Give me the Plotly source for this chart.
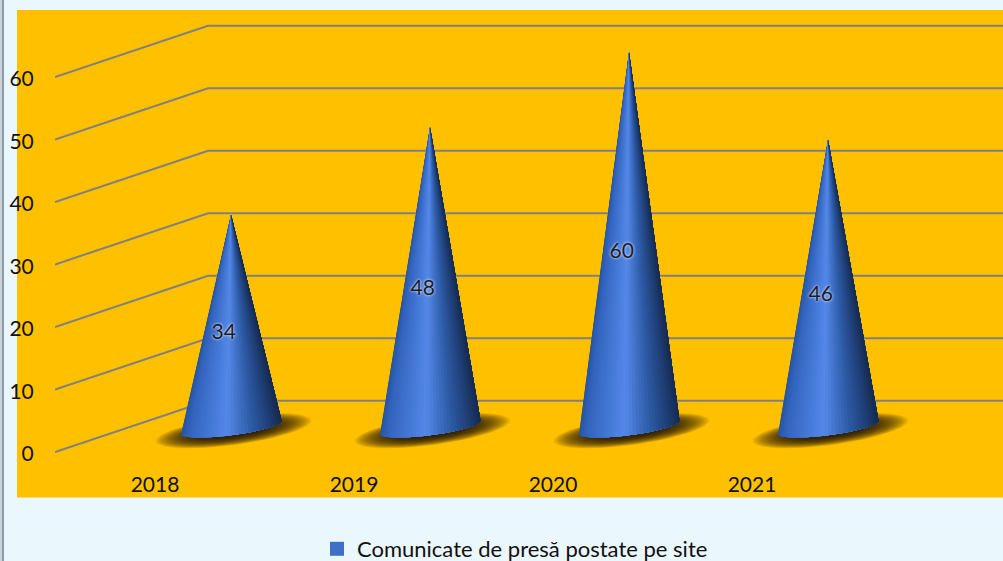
import math
import plotly.graph_objects as go

categories = ["2018", "2019", "2020", "2021"]
values = [34, 48, 60, 46]
y_ticks = [0, 10, 20, 30, 40, 50, 60]
series_name = "Comunicate de presă postate pe site"

FONT = "Lato"
TEXT = "#111111"
GRID = "#808080"
ORANGE = "#FFC000"
PAPER = "#EAF7FD"

W, H = 1003, 561
L, R, T, B = 55, 1003, 10, 465
X_RANGE = [(L - 155) / 199, (R - 155) / 199]
Y_RANGE = [(452 - B) / 6.25, (452 - T) / 6.25]

# 3-D look expressed in axis units
DEPTH_X = 0.769
DEPTH_Y = 8.2
CONE_DX = 0.382
CONE_DY = 3.95
BASE_A = 0.2538
BASE_TILT = 1.04
BASE_B = 1.28

STOPS = [(0.0, (38, 84, 160)), (0.08, (50, 100, 190)), (0.46, (84, 136, 232)),
         (0.70, (46, 92, 168)), (0.90, (30, 60, 112)), (1.0, (22, 42, 80))]


def shade(s):
    for (a, ca), (b, cb) in zip(STOPS, STOPS[1:]):
        if s <= b:
            f = (s - a) / (b - a)
            c = [round(x + (y - x) * f) for x, y in zip(ca, cb)]
            return f"rgb({c[0]},{c[1]},{c[2]})"
    return "rgb(22,42,80)"


fig = go.Figure()

# Gridlines: slanted side wall + horizontal back wall
for t in y_ticks:
    fig.add_trace(go.Scatter(
        x=[X_RANGE[0], X_RANGE[0] + DEPTH_X, X_RANGE[1]],
        y=[t, t + DEPTH_Y, t + DEPTH_Y],
        mode="lines", line=dict(color=GRID, width=2),
        showlegend=False, hoverinfo="skip"))

# Cones
N = 44
for i, v in enumerate(values):
    cx, cy = i + CONE_DX, CONE_DY

    # soft floor shadow
    layers = 20
    for k in range(layers):
        f = 1 - k / layers * 0.62
        xs, ys = [], []
        for j in range(61):
            p = 2 * math.pi * j / 60
            xs.append(cx + 0.012 + 0.39 * f * math.cos(p))
            ys.append(cy - 0.55 + 1.62 * f * math.cos(p) + 2.3 * f * math.sin(p))
        fig.add_trace(go.Scatter(
            x=xs, y=ys, mode="lines", fill="toself",
            fillcolor="rgba(30,22,0,0.10)", line=dict(width=0),
            showlegend=False, hoverinfo="skip"))

    # lit surface: each wedge covers everything to its right, so no seams show
    for j in range(N):
        pm = math.pi + math.pi * (j + 0.5) / N
        s = (1 + math.cos(pm)) / 2
        col = shade(s)
        arc = [math.pi + math.pi * m / N for m in range(j, N + 1)]
        fig.add_trace(go.Scatter(
            x=[cx] + [cx + BASE_A * math.cos(p) for p in arc] + [cx],
            y=[cy + v] + [cy + BASE_TILT * math.cos(p) + BASE_B * math.sin(p) for p in arc] + [cy + v],
            mode="lines", fill="toself", fillcolor=col, line=dict(width=0),
            showlegend=False, hoverinfo="skip"))

# Data labels
fig.add_trace(go.Scatter(
    x=[i + 0.345 for i in range(len(values))],
    y=[v / 2 + 1.95 for v in values],
    mode="text", text=[str(v) for v in values], textposition="middle center",
    textfont=dict(family=FONT, size=21, color="#1c1c28",
                  shadow="0px 0px 3px #ffffff"),
    showlegend=False, hoverinfo="skip"))

# Legend entry
fig.add_trace(go.Scatter(
    x=[None], y=[None], mode="markers", name=series_name,
    marker=dict(symbol="square", size=14, color="#3f6fc6"),
    hoverinfo="skip"))

fig.update_layout(
    width=W, height=H, autosize=False,
    margin=dict(l=L, r=W - R, t=T, b=H - B, pad=0, autoexpand=False),
    paper_bgcolor=PAPER, plot_bgcolor="rgba(0,0,0,0)",
    font=dict(family=FONT, size=21, color=TEXT),
    xaxis=dict(range=X_RANGE, tickmode="array", tickvals=list(range(len(categories))),
               ticktext=categories, showgrid=False, zeroline=False, showline=False,
               ticks="outside", ticklen=1, tickcolor="rgba(0,0,0,0)",
               tickfont=dict(family=FONT, size=21, color=TEXT), fixedrange=True),
    yaxis=dict(range=Y_RANGE, tickmode="array", tickvals=y_ticks,
               showgrid=False, zeroline=False, showline=False,
               ticks="outside", ticklen=16, tickcolor="rgba(0,0,0,0)", ticklabelshift=2,
               tickfont=dict(family=FONT, size=21, color=TEXT), fixedrange=True),
    legend=dict(orientation="h", x=(515 - L) / (R - L), xanchor="center",
                y=(B - 549) / (B - T), yanchor="middle",
                bgcolor="rgba(0,0,0,0)", font=dict(family=FONT, size=22, color=TEXT)),
    shapes=[
        dict(type="rect", xref="paper", yref="paper", layer="below",
             x0=(17 - L) / (R - L), x1=1, y0=(B - 497.5) / (B - T), y1=1,
             fillcolor=ORANGE, line=dict(width=0)),
        dict(type="rect", xref="paper", yref="paper", layer="below",
             x0=(0 - L) / (R - L), x1=(2 - L) / (R - L), y0=-1, y1=1.1,
             fillcolor="#CBD3DB", line=dict(width=0)),
        dict(type="rect", xref="paper", yref="paper", layer="below",
             x0=(2 - L) / (R - L), x1=(4 - L) / (R - L), y0=-1, y1=1.1,
             fillcolor="#8E9AA8", line=dict(width=0)),
    ],
)

fig.write_html("out.html", config=dict(displayModeBar=False),
               post_script="document.body.style.margin='0';document.body.style.overflow='hidden';")
